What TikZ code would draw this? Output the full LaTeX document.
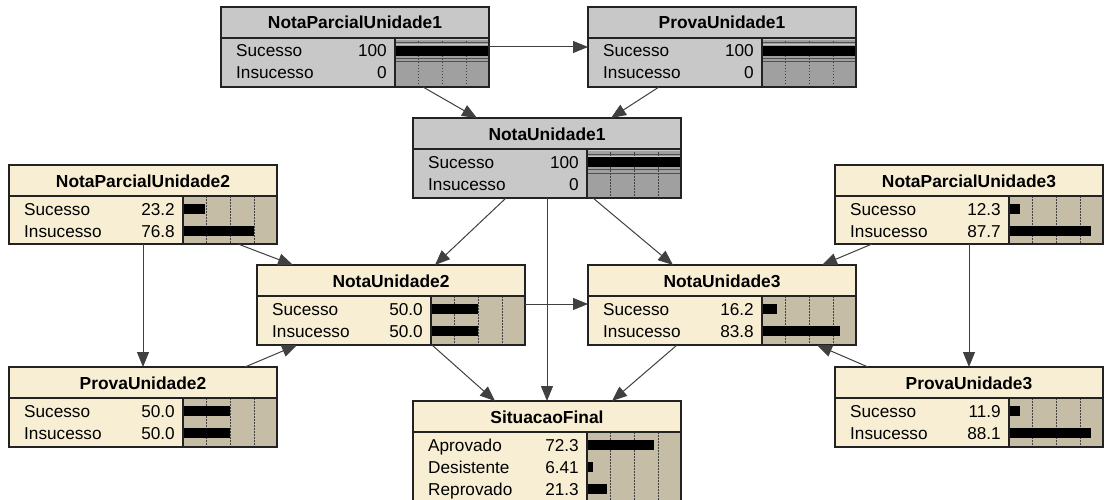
\documentclass[tikz,border=0pt]{standalone}
\usepackage{fontspec}
\setmainfont{Liberation Sans}
\usetikzlibrary{arrows.meta}
\definecolor{gtitle}{HTML}{C8C8C8}
\definecolor{gbar}{HTML}{A0A0A0}
\definecolor{btitle}{HTML}{F8EED3}
\definecolor{bbar}{HTML}{C6BDA6}
\definecolor{edgec}{HTML}{404040}
\definecolor{framec}{HTML}{222222}
\definecolor{evline}{HTML}{505050}
\tikzset{
  netbox/.style={draw=none, inner sep=0pt, outer sep=0pt, anchor=north west, minimum width=268pt},
  ttl/.style={font=\bfseries\fontsize{17.4}{20}\selectfont, anchor=base, inner sep=0pt},
  lbl/.style={font=\fontsize{17.2}{20}\selectfont, anchor=base west, inner sep=0pt},
  val/.style={font=\fontsize{17.2}{20}\selectfont, anchor=base east, inner sep=0pt},
  gridl/.style={draw=black!75, line width=0.8pt, dash pattern=on 1.5pt off 1.5pt},
  frame/.style={draw=framec, line width=1.2pt},
  edge/.style={draw=edgec, line width=1pt, -{Triangle[length=15pt,width=12pt]}},
}
% name, left, top, height, titlefill, barfill, title
\newcommand\netnode[7]{%
  \node[netbox, fill=#5, minimum height=#4pt] (#1) at (#2,#3) {};
  \fill[#6] (#2+174,#3+31) rectangle (#2+268,#3+#4);
  \foreach \f in {23.5,47.5,71.5}{\draw[gridl] (#2+174+\f,#3+31) -- (#2+174+\f,#3+#4);}
  \node[ttl] at (#2+134,#3+22) {#7};
}
% left, top, height
\newcommand\netframe[3]{%
  \draw[frame] (#1,#2+31) -- (#1+268,#2+31);
  \draw[frame] (#1+174,#2+31) -- (#1+174,#2+#3);
  \draw[frame] (#1,#2) rectangle (#1+268,#2+#3);
}
% left, top : evidence stripes for observed node
\newcommand\evid[2]{%
  \draw[gtitle, line width=1pt] (#1+174,#2+32.5) -- (#1+268,#2+32.5);
  \draw[evline, line width=1pt] (#1+174,#2+36) -- (#1+268,#2+36);
  \draw[gtitle, line width=1pt] (#1+174,#2+38) -- (#1+268,#2+38);
  \draw[evline, line width=1pt] (#1+174,#2+51.5) -- (#1+268,#2+51.5);
  \draw[evline, line width=1pt] (#1+174,#2+55) -- (#1+268,#2+55);
}
% left, top, idx, label, value, pct
\newcommand\netrow[6]{%
  \pgfmathsetmacro\yc{#2+44+22*(#3-1)}
  \node[lbl] at (#1+15,\yc+6) {#4};
  \node[val] at (#1+166,\yc+6) {#5};
  \fill[black] (#1+174,\yc-5) rectangle ++(0.93*#6,10);
}
\begin{document}
\begin{tikzpicture}[x=1pt,y=-1pt]
\clip (0,0) rectangle (1105,500);
\fill[white] (0,0) rectangle (1105,500);

% NotaParcialUnidade1
\netnode{npu1}{221}{7}{80}{gtitle}{gbar}{NotaParcialUnidade1}
\evid{221}{7}
\netrow{221}{7}{1}{Sucesso}{100}{100}
\netrow{221}{7}{2}{Insucesso}{0}{0}
\netframe{221}{7}{80}

% ProvaUnidade1
\netnode{pu1}{588}{7}{80}{gtitle}{gbar}{ProvaUnidade1}
\evid{588}{7}
\netrow{588}{7}{1}{Sucesso}{100}{100}
\netrow{588}{7}{2}{Insucesso}{0}{0}
\netframe{588}{7}{80}

% NotaUnidade1
\netnode{nu1}{413}{118}{80}{gtitle}{gbar}{NotaUnidade1}
\evid{413}{118}
\netrow{413}{118}{1}{Sucesso}{100}{100}
\netrow{413}{118}{2}{Insucesso}{0}{0}
\netframe{413}{118}{80}

% NotaParcialUnidade2
\netnode{npu2}{9}{165}{79}{btitle}{bbar}{NotaParcialUnidade2}
\netrow{9}{165}{1}{Sucesso}{23.2}{23.2}
\netrow{9}{165}{2}{Insucesso}{76.8}{76.8}
\netframe{9}{165}{79}

% NotaParcialUnidade3
\netnode{npu3}{835}{165}{79}{btitle}{bbar}{NotaParcialUnidade3}
\netrow{835}{165}{1}{Sucesso}{12.3}{12.3}
\netrow{835}{165}{2}{Insucesso}{87.7}{87.7}
\netframe{835}{165}{79}

% NotaUnidade2
\netnode{nu2}{257}{265}{80}{btitle}{bbar}{NotaUnidade2}
\netrow{257}{265}{1}{Sucesso}{50.0}{50.0}
\netrow{257}{265}{2}{Insucesso}{50.0}{50.0}
\netframe{257}{265}{80}

% NotaUnidade3
\netnode{nu3}{588}{265}{80}{btitle}{bbar}{NotaUnidade3}
\netrow{588}{265}{1}{Sucesso}{16.2}{16.2}
\netrow{588}{265}{2}{Insucesso}{83.8}{83.8}
\netframe{588}{265}{80}

% ProvaUnidade2
\netnode{pu2}{9}{367}{80}{btitle}{bbar}{ProvaUnidade2}
\netrow{9}{367}{1}{Sucesso}{50.0}{50.0}
\netrow{9}{367}{2}{Insucesso}{50.0}{50.0}
\netframe{9}{367}{80}

% ProvaUnidade3
\netnode{pu3}{835}{367}{80}{btitle}{bbar}{ProvaUnidade3}
\netrow{835}{367}{1}{Sucesso}{11.9}{11.9}
\netrow{835}{367}{2}{Insucesso}{88.1}{88.1}
\netframe{835}{367}{80}

% SituacaoFinal
\netnode{sf}{413}{401}{106}{btitle}{bbar}{SituacaoFinal}
\netrow{413}{401}{1}{Aprovado}{72.3}{72.3}
\netrow{413}{401}{2}{Desistente}{6.41}{6.41}
\netrow{413}{401}{3}{Reprovado}{21.3}{21.3}
\netframe{413}{401}{106}

% connectors
\draw[edge] ([yshift=-40pt]npu1.north east) -- ([yshift=-40pt]pu1.north west);
\draw[edge] ([xshift=202pt]npu1.south west) -- ([xshift=64pt]nu1.north west);
\draw[edge] ([xshift=71pt]pu1.south west) -- ([xshift=198pt]nu1.north west);
\draw[edge] ([xshift=93pt]nu1.south west) -- ([xshift=178pt]nu2.north west);
\draw[edge] (nu1.south) -- (sf.north);
\draw[edge] ([xshift=180pt]nu1.south west) -- ([xshift=85pt]nu3.north west);
\draw[edge] ([xshift=229pt]npu2.south west) -- ([xshift=36pt]nu2.north west);
\draw[edge] (npu2.south) -- (pu2.north);
\draw[edge] ([xshift=236pt]pu2.north west) -- ([xshift=40pt]nu2.south west);
\draw[edge] ([xshift=37pt]npu3.south west) -- ([xshift=234pt]nu3.north west);
\draw[edge] (npu3.south) -- (pu3.north);
\draw[edge] ([xshift=33pt]pu3.north west) -- ([xshift=229pt]nu3.south west);
\draw[edge] ([yshift=-39pt]nu2.north east) -- ([yshift=-39pt]nu3.north west);
\draw[edge] ([xshift=175pt]nu2.south west) -- ([xshift=82pt]sf.north west);
\draw[edge] ([xshift=89pt]nu3.south west) -- ([xshift=199pt]sf.north west);
\end{tikzpicture}
\end{document}
